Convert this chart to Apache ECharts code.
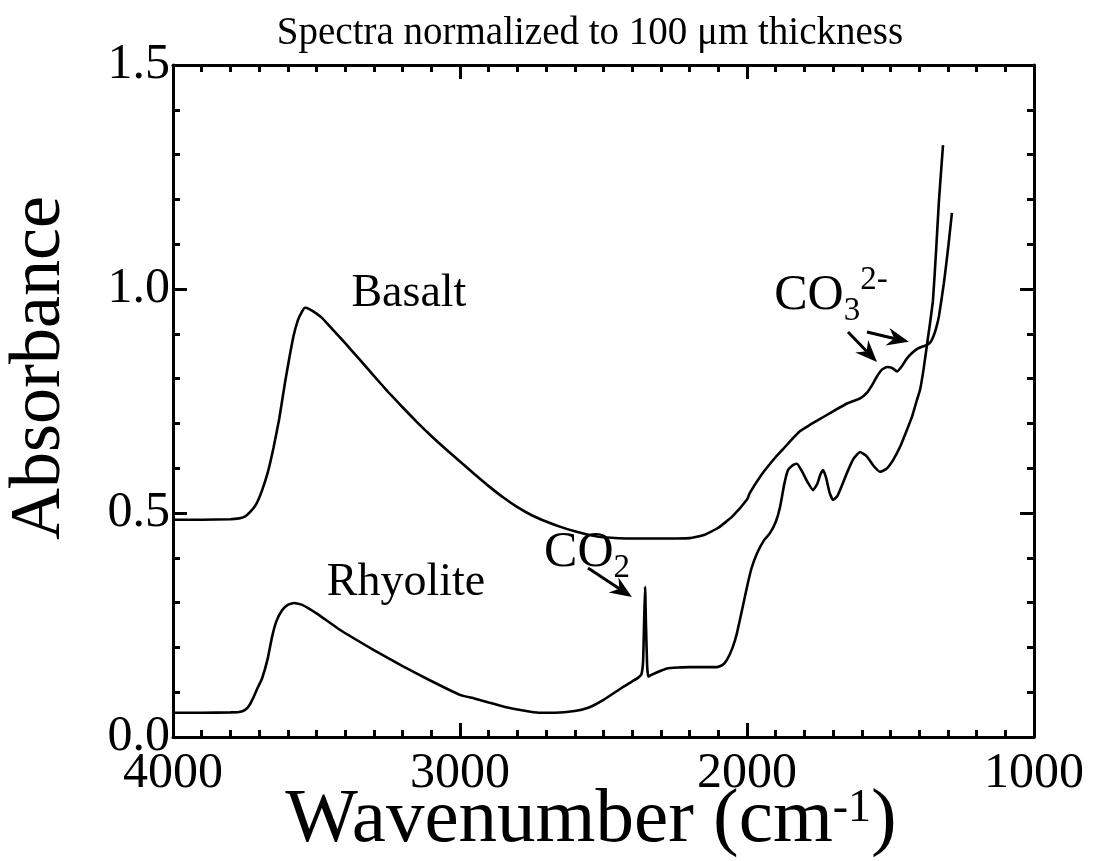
<!DOCTYPE html>
<html>
<head>
<meta charset="utf-8">
<script src="https://cdn.jsdelivr.net/npm/echarts@6/dist/echarts.min.js"></script>
<style>
  html, body { margin: 0; padding: 0; background: #fff; }
  #chart { width: 1114px; height: 861px; }
</style>
</head>
<body>
<div id="chart"></div>
<script>
// Infrared absorbance spectra (normalized to 100 um thickness)
const basaltWn = [4000, 3900, 3800, 3770, 3750, 3730, 3710, 3690, 3670, 3650, 3630, 3610, 3595, 3580, 3565, 3550, 3540, 3525, 3500, 3480,
  3440, 3400, 3350, 3300, 3250, 3200, 3150, 3100, 3050, 3000, 2950, 2900, 2850, 2800, 2750, 2700, 2650, 2600, 2550, 2500,
  2400, 2300, 2200, 2150, 2100, 2050, 2000, 1990, 1950, 1900, 1875, 1850, 1815, 1780, 1756, 1700, 1650, 1606, 1580, 1560,
  1547, 1530, 1512, 1495, 1477, 1460, 1443, 1425, 1408, 1390, 1373, 1360, 1350, 1340, 1331, 1314, 1300, 1286];
const basaltAbs = [0.485, 0.485, 0.486, 0.488, 0.492, 0.503, 0.52, 0.55, 0.59, 0.645, 0.71, 0.79, 0.845, 0.895, 0.93, 0.95, 0.958, 0.955, 0.945, 0.935,
  0.907, 0.879, 0.843, 0.806, 0.77, 0.736, 0.703, 0.672, 0.643, 0.615, 0.587, 0.56, 0.535, 0.513, 0.495, 0.481, 0.469, 0.459, 0.451, 0.446,
  0.443, 0.443, 0.444, 0.451, 0.467, 0.493, 0.53, 0.545, 0.585, 0.625, 0.642, 0.66, 0.683, 0.697, 0.706, 0.727, 0.745, 0.756, 0.77, 0.79,
  0.805, 0.82, 0.826, 0.824, 0.816, 0.828, 0.845, 0.857, 0.866, 0.871, 0.875, 0.882, 0.895, 0.915, 0.94, 1.013, 1.087, 1.17];

const rhyoliteWn = [4000, 3900, 3800, 3770, 3750, 3735, 3720, 3705, 3690, 3670, 3655, 3640, 3620, 3600, 3578, 3550, 3500, 3420, 3300, 3200,
  3100, 3000, 2950, 2900, 2843, 2780, 2725, 2669, 2600, 2551, 2500, 2436, 2400, 2380, 2368, 2362, 2358, 2355, 2352, 2348, 2344, 2335,
  2300, 2279, 2240, 2199, 2150, 2105, 2085, 2070, 2050, 2035, 2015, 2000, 1985, 1965, 1940, 1920, 1900, 1885, 1870, 1857, 1840, 1826,
  1810, 1790, 1770, 1755, 1745, 1735, 1725, 1712, 1700, 1685, 1670, 1652, 1630, 1606, 1585, 1560, 1537, 1515, 1491, 1465, 1443, 1425,
  1408, 1397, 1385, 1373, 1362, 1352, 1341, 1331, 1317];
const rhyoliteAbs = [0.054, 0.054, 0.055, 0.056, 0.06, 0.07, 0.088, 0.11, 0.13, 0.175, 0.223, 0.258, 0.283, 0.295, 0.299, 0.295, 0.276, 0.24, 0.194, 0.158,
  0.125, 0.094, 0.086, 0.077, 0.067, 0.059, 0.054, 0.054, 0.058, 0.066, 0.083, 0.11, 0.124, 0.132, 0.14, 0.17, 0.27, 0.335, 0.25, 0.16, 0.135, 0.138,
  0.148, 0.153, 0.155, 0.156, 0.156, 0.156, 0.161, 0.172, 0.2, 0.232, 0.29, 0.335, 0.375, 0.41, 0.44, 0.455, 0.48, 0.513, 0.565, 0.596, 0.607, 0.61,
  0.595, 0.57, 0.551, 0.565, 0.585, 0.596, 0.58, 0.545, 0.529, 0.538, 0.56, 0.589, 0.62, 0.636, 0.628, 0.606, 0.592, 0.598, 0.618, 0.65, 0.685, 0.715,
  0.752, 0.775, 0.82, 0.875, 0.925, 0.975, 1.087, 1.199, 1.321];

// Annotations, given in data units (wavenumber, absorbance)
const sampleLabels = [
  { text: 'Basalt', at: [3178, 0.988] },
  { text: 'Rhyolite', at: [3188, 0.345] }
];
const speciesLabels = [
  { parts: ['CO', '2', ''], at: [2707, 0.41] },
  { parts: ['CO', '3', '2-'], at: [1905, 0.985] }
];
const arrows = [
  { from: [2554, 0.377], to: [2401, 0.3125] },
  { from: [1648, 0.904], to: [1547, 0.837] },
  { from: [1582, 0.904], to: [1436, 0.882] }
];

const pair = (xs, ys) => xs.map((x, i) => [x, ys[i]]);
const FONT = '"Liberation Serif", "DejaVu Serif", serif';

const chart = echarts.init(document.getElementById('chart'));

function xAxisCfg(pos, showLabels) {
  return {
    type: 'value', position: pos, min: 1000, max: 4000, interval: 1000, inverse: true,
    axisLine: { show: true, onZero: false, lineStyle: { color: '#000', width: 3 } },
    axisTick: { show: true, inside: true, length: 14, lineStyle: { color: '#000', width: 3 } },
    minorTick: { show: true, splitNumber: 10, length: 7, lineStyle: { color: '#000', width: 3 } },
    splitLine: { show: false }, minorSplitLine: { show: false },
    axisLabel: { show: showLabels, margin: 12, color: '#000', fontFamily: FONT, fontSize: 50,
      formatter: v => String(v) }
  };
}
function yAxisCfg(pos, showLabels) {
  return {
    type: 'value', position: pos, min: 0, max: 1.5, interval: 0.5,
    axisLine: { show: true, onZero: false, lineStyle: { color: '#000', width: 3 } },
    axisTick: { show: true, inside: true, length: 14, lineStyle: { color: '#000', width: 3 } },
    minorTick: { show: true, splitNumber: 5, length: 7, lineStyle: { color: '#000', width: 3 } },
    splitLine: { show: false }, minorSplitLine: { show: false },
    axisLabel: { show: showLabels, margin: 3, color: '#000', fontFamily: FONT, fontSize: 50,
      formatter: v => v.toFixed(1) }
  };
}

const lineSeries = (name, data) => ({
  name, type: 'line', data, xAxisIndex: 0, yAxisIndex: 0,
  showSymbol: false, smooth: 0.15, animation: false,
  lineStyle: { color: '#000', width: 2.6 }
});

chart.setOption({
  animation: false,
  backgroundColor: '#fff',
  grid: { left: 173, right: 80, top: 65, bottom: 124, containLabel: false },
  xAxis: [xAxisCfg('bottom', true), xAxisCfg('top', false)],
  yAxis: [yAxisCfg('left', true), yAxisCfg('right', false)],
  series: [
    lineSeries('Basalt', pair(basaltWn, basaltAbs)),
    lineSeries('Rhyolite', pair(rhyoliteWn, rhyoliteAbs))
  ]
});

// Title, axis names, sample names, species labels and arrows
const toPx = p => chart.convertToPixel({ xAxisIndex: 0, yAxisIndex: 0 }, p);
const graphics = [
  { type: 'text', x: 590, y: 14,
    style: { text: 'Spectra normalized to 100 \u03bcm thickness', fontFamily: FONT, fontSize: 39,
      fill: '#000', align: 'center', verticalAlign: 'top' } },
  { type: 'text', x: 591, y: 821,
    style: { text: '{a|Wavenumber (cm}{s|-1}{a|)}', align: 'center', verticalAlign: 'middle',
      rich: {
        a: { fontFamily: FONT, fontSize: 77, fill: '#000', lineHeight: 78, verticalAlign: 'middle' },
        s: { fontFamily: FONT, fontSize: 46, fill: '#000', lineHeight: 78, verticalAlign: 'top', padding: [4, 0, 0, 0] }
      } } },
  { type: 'text', x: 40, y: 368, rotation: Math.PI / 2,
    style: { text: 'Absorbance', fontFamily: FONT, fontSize: 72, fill: '#000', align: 'center', verticalAlign: 'middle' } }
];
sampleLabels.forEach(l => {
  const [x, y] = toPx(l.at);
  graphics.push({ type: 'text', x, y,
    style: { text: l.text, fontFamily: FONT, fontSize: 46, fill: '#000', align: 'center', verticalAlign: 'middle' } });
});
speciesLabels.forEach(l => {
  const [x, y] = toPx(l.at);
  graphics.push({ type: 'text', x, y,
    style: {
      text: '{m|' + l.parts[0] + '}{b|' + l.parts[1] + '}' + (l.parts[2] ? '{t|' + l.parts[2] + '}' : ''),
      align: 'left', verticalAlign: 'middle',
      rich: {
        m: { fontFamily: FONT, fontSize: 50, fill: '#000', lineHeight: 64, verticalAlign: 'middle' },
        b: { fontFamily: FONT, fontSize: 33, fill: '#000', lineHeight: 64, verticalAlign: 'bottom' },
        t: { fontFamily: FONT, fontSize: 33, fill: '#000', lineHeight: 64, verticalAlign: 'top' }
      }
    } });
});
arrows.forEach(a => {
  const [x1, y1] = toPx(a.from);
  const [x2, y2] = toPx(a.to);
  const dx = x2 - x1, dy = y2 - y1, len = Math.hypot(dx, dy);
  const ux = dx / len, uy = dy / len, nx = -uy, ny = ux;
  const head = 22, half = 9, notch = 15;
  graphics.push({ type: 'line', shape: { x1, y1, x2: x2 - ux * notch, y2: y2 - uy * notch },
    style: { stroke: '#000', lineWidth: 3 } });
  graphics.push({ type: 'polygon', shape: { points: [
      [x2, y2],
      [x2 - ux * head + nx * half, y2 - uy * head + ny * half],
      [x2 - ux * notch, y2 - uy * notch],
      [x2 - ux * head - nx * half, y2 - uy * head - ny * half]
    ] }, style: { fill: '#000' } });
});
chart.setOption({ graphic: graphics });
</script>
</body>
</html>
